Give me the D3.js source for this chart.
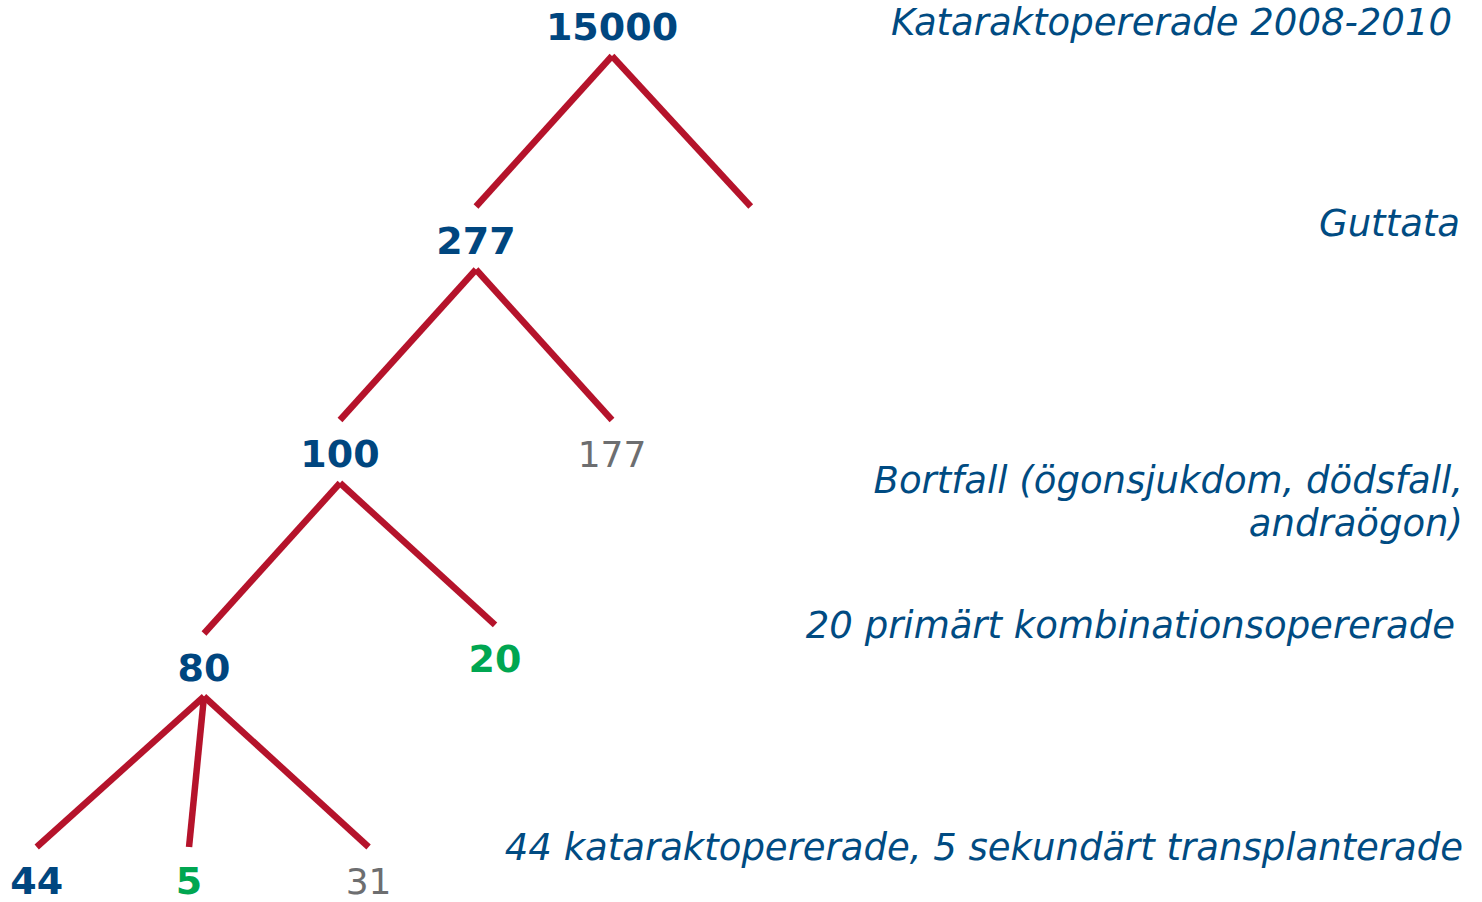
<!DOCTYPE html>
<html>
<head>
<meta charset="utf-8">
<script src="https://cdn.jsdelivr.net/npm/d3@7"></script>
<style>
  body { margin: 0; background: #fff; }
  svg { display: block; }
  .num { font-family: "DejaVu Sans", Verdana, sans-serif; font-size: 36px; text-anchor: middle; }
  .note { font-family: "DejaVu Sans", Verdana, sans-serif; font-style: italic; font-size: 37px; fill: #004b82; text-anchor: end; }
</style>
</head>
<body>
<div id="graph"></div>
<script>
// tree nodes: value shown, level (row) and slot (column), kind sets colour
var nodeIds    = ["root", "gutt", "rest", "drop", "kept", "comb", "kat", "sek", "lost", "other"];
var nodeValues = ["15000", "277", "100", "177", "80", "20", "44", "5", "31", ""];
var nodeLevels = [0, 1, 2, 2, 3, 2.96, 4, 4, 4, 1];
var nodeSlots  = [4, 3, 2, 4, 1, 3.14, -0.23, 0.89, 2.21, 5.02];
var nodeKinds  = ["main", "main", "main", "lost", "main", "ok", "main", "ok", "lost", "none"];

// parent -> child
var links = [
  ["root", "gutt"], ["root", "other"],
  ["gutt", "rest"], ["gutt", "drop"],
  ["rest", "kept"], ["rest", "comb"],
  ["kept", "kat"], ["kept", "sek"], ["kept", "lost"]
];

// side notes and the row they sit on
var notes = [
  ["Kataraktopererade 2008-2010"],
  ["Guttata"],
  ["Bortfall (ögonsjukdom, dödsfall,", "andraögon)"],
  ["20 primärt kombinationsopererade"],
  ["44 kataraktopererade, 5 sekundärt transplanterade"]
];
var noteRows = [-0.025, 0.92, 2.12, 2.8, 3.84];
var noteRight = [1452, 1460, 1463, 1455, 1463];

var width = 1482, height = 902;

var colors = { main: "#00467f", ok: "#00a651", lost: "#6d6e70", none: "none" };

var xScale = d3.scaleLinear().domain([1, 4]).range([204, 612]);
var yScale = d3.scaleLinear().domain([0, 4]).range([40, 894]);

var nodes = nodeIds.map(function(id, i) {
    return { id: id, value: nodeValues[i], level: nodeLevels[i], slot: nodeSlots[i], kind: nodeKinds[i] };
});
var byId = {};
nodes.forEach(function(d) { byId[d.id] = d; });

var graph = d3.select("#graph")
    .append("svg")
    .attr("width", width)
    .attr("height", height);

graph.selectAll("line.branch")
    .data(links)
    .enter().append("line")
    .attr("class", "branch")
    .attr("x1", function(d) { return xScale(byId[d[0]].slot); })
    .attr("y1", function(d) { return yScale(byId[d[0]].level) + 16; })
    .attr("x2", function(d) { return xScale(byId[d[1]].slot); })
    .attr("y2", function(d) { return yScale(byId[d[1]].level) - 47; })
    .attr("stroke", "#b5132b")
    .attr("stroke-width", 6.5);

graph.selectAll("text.num")
    .data(nodes.filter(function(d) { return d.value !== ""; }))
    .enter().append("text")
    .attr("class", "num")
    .attr("x", function(d) { return xScale(d.slot); })
    .attr("y", function(d) { return yScale(d.level); })
    .attr("fill", function(d) { return colors[d.kind]; })
    .style("font-weight", function(d) { return d.kind === "lost" ? "normal" : "bold"; })
    .style("font-size", function(d) { return d.kind === "lost" ? "36px" : "38px"; })
    .text(function(d) { return d.value; });

var noteG = graph.selectAll("text.note")
    .data(notes)
    .enter().append("text")
    .attr("class", "note")
    .attr("y", function(d, i) { return yScale(noteRows[i]); });

noteG.selectAll("tspan")
    .data(function(d, i) { return d.map(function(t) { return { text: t, right: noteRight[i] }; }); })
    .enter().append("tspan")
    .attr("x", function(d) { return d.right; })
    .attr("dy", function(d, i) { return i === 0 ? 0 : 43; })
    .text(function(d) { return d.text; });
</script>
</body>
</html>
